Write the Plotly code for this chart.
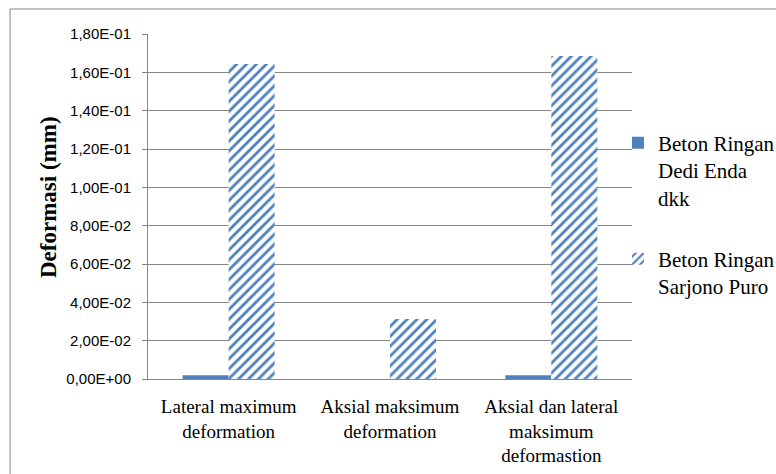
import plotly.graph_objects as go

# Deformation results for the two lightweight concrete studies
categories = [
    "Lateral maximum<br>deformation",
    "Aksial maksimum<br>deformation",
    "Aksial dan lateral<br>maksimum<br>deformastion",
]
dedi_enda = [0.002, 0.0, 0.002]
sarjono_puro = [0.1643, 0.0313, 0.1685]

tick_vals = [0.0, 0.02, 0.04, 0.06, 0.08, 0.10, 0.12, 0.14, 0.16, 0.18]
tick_text = ["0,00E+00", "2,00E-02", "4,00E-02", "6,00E-02", "8,00E-02",
             "1,00E-01", "1,20E-01", "1,40E-01", "1,60E-01", "1,80E-01"]

BLUE = "#4F81BD"
GRID = "#868686"
SERIF = "Liberation Serif, Times New Roman, serif"

fig = go.Figure()
fig.add_trace(go.Bar(
    x=categories, y=dedi_enda,
    name="Beton Ringan<br>Dedi Enda<br>dkk",
    legendgroup="a",
    marker=dict(color=BLUE, line=dict(width=0)),
))
fig.add_trace(go.Bar(
    x=categories, y=sarjono_puro,
    name="Beton Ringan<br>Sarjono Puro",
    legendgroup="b",
    marker=dict(
        color="white",
        line=dict(width=0),
        pattern=dict(shape="/", fgcolor=BLUE, bgcolor="white",
                     size=7, solidity=0.4, fillmode="replace"),
    ),
))

fig.update_layout(
    width=776, height=474,
    margin=dict(l=148, r=144, t=34, b=95, autoexpand=False),
    paper_bgcolor="white",
    plot_bgcolor="white",
    barmode="group",
    bargap=0.43,
    bargroupgap=0,
    showlegend=True,
    legend=dict(
        x=0.971, xanchor="left",
        y=0.743, yanchor="top",
        valign="top",
        tracegroupgap=31,
        font=dict(family=SERIF, size=21, color="black"),
        bgcolor="rgba(0,0,0,0)",
        itemclick=False,
    ),
    xaxis=dict(
        showgrid=False,
        showline=True, linecolor=GRID, linewidth=1,
        ticks="",
        tickfont=dict(family=SERIF, size=19, color="black"),
        ticklabelstandoff=10,
        zeroline=False,
    ),
    yaxis=dict(
        range=[0, 0.18],
        tickvals=tick_vals, ticktext=tick_text,
        showgrid=True, gridcolor=GRID, gridwidth=1,
        showline=True, linecolor=GRID, linewidth=1,
        ticks="outside", ticklen=5, tickcolor=GRID,
        ticklabelstandoff=8,
        tickfont=dict(family="Liberation Sans Narrow, Liberation Sans, Arial, sans-serif",
                      size=15, color="black"),
        zeroline=False,
    ),
    annotations=[dict(
        text="<b>Deformasi (mm)</b>",
        xref="paper", yref="paper",
        x=-0.207, y=0.527, xanchor="center", yanchor="middle",
        textangle=-90, showarrow=False,
        font=dict(family=SERIF, size=23, color="black"),
    )],
    shapes=[dict(
        type="rect", xref="paper", yref="paper",
        x0=-0.285, x1=1.6, y0=-0.5, y1=1.0725,
        line=dict(color=GRID, width=1),
        fillcolor="rgba(0,0,0,0)", layer="below",
    )],
)

fig.write_html("out.html")
